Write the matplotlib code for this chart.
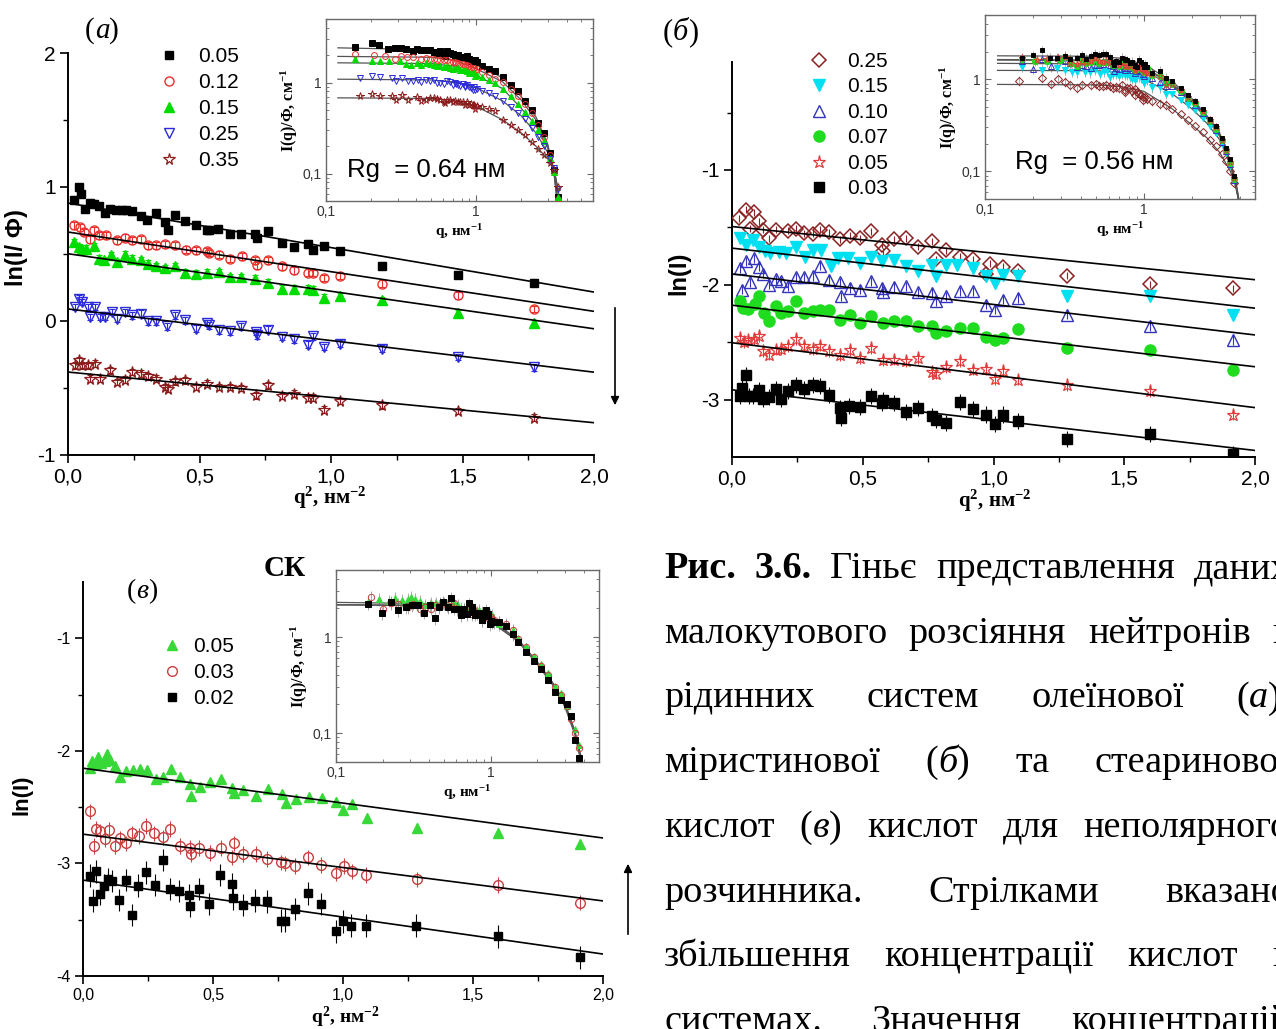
import numpy as np
import matplotlib
matplotlib.use("Agg")
import matplotlib.pyplot as plt
from matplotlib.ticker import MultipleLocator, FixedLocator, FuncFormatter, NullFormatter, LogLocator

plt.rcParams['font.family'] = ['Liberation Sans', 'DejaVu Sans']
plt.rcParams['axes.unicode_minus'] = False
plt.rcParams['mathtext.fontset'] = 'custom'
plt.rcParams['mathtext.rm'] = 'Liberation Serif'
plt.rcParams['mathtext.bf'] = 'Liberation Serif:bold'
plt.rcParams['mathtext.it'] = 'Liberation Serif:italic'

# ======================= DATA =======================
# ---- panel (a): oleic acid, ln(I/Phi) vs q^2 ----
A_labels = ['0.05', '0.12', '0.15', '0.25', '0.35']
A_q2_k = [0.024,0.041,0.051,0.066,0.083,0.10,0.118,0.142,0.161,0.184,0.206,0.222,0.244,0.276,0.301,0.334,0.37,0.381,0.407,0.445,0.485,0.53,0.536,0.572,0.616,0.659,0.71,0.718,0.759,0.813,0.86,0.914,0.93,0.975,1.036,1.193,1.482,1.772]
A_ln_k = [0.905,1.0,0.95,0.838,0.883,0.876,0.858,0.808,0.838,0.831,0.826,0.826,0.818,0.784,0.756,0.806,0.736,0.682,0.791,0.746,0.719,0.682,0.677,0.689,0.652,0.647,0.647,0.622,0.669,0.585,0.552,0.577,0.532,0.56,0.52,0.414,0.345,0.285]
A_q2_r = [0.024,0.044,0.062,0.083,0.10,0.119,0.146,0.187,0.215,0.244,0.276,0.305,0.334,0.37,0.407,0.447,0.488,0.53,0.536,0.574,0.616,0.663,0.71,0.72,0.759,0.813,0.86,0.914,0.93,0.972,1.036,1.193,1.482,1.772]
A_ln_r = [0.714,0.70,0.664,0.609,0.677,0.639,0.639,0.602,0.622,0.602,0.609,0.565,0.565,0.572,0.565,0.532,0.527,0.522,0.507,0.495,0.465,0.483,0.453,0.415,0.453,0.408,0.378,0.361,0.358,0.321,0.336,0.278,0.191,0.089]
A_q2_g = [0.024,0.041,0.053,0.07,0.098,0.117,0.136,0.164,0.187,0.215,0.244,0.276,0.305,0.334,0.37,0.407,0.445,0.485,0.53,0.574,0.616,0.659,0.71,0.759,0.813,0.86,0.914,0.93,0.972,1.036,1.193,1.482,1.772]
A_ln_g = [0.59,0.552,0.54,0.54,0.557,0.465,0.453,0.49,0.44,0.495,0.465,0.453,0.428,0.408,0.396,0.41,0.361,0.353,0.361,0.366,0.328,0.328,0.316,0.286,0.241,0.241,0.241,0.234,0.174,0.187,0.154,0.06,-0.015]
A_q2_b = [0.028,0.041,0.053,0.075,0.085,0.104,0.123,0.142,0.168,0.187,0.215,0.244,0.276,0.305,0.334,0.377,0.407,0.445,0.488,0.53,0.536,0.574,0.616,0.659,0.714,0.72,0.759,0.813,0.86,0.914,0.93,0.972,1.036,1.193,1.482,1.772]
A_ln_b = [0.104,0.167,0.142,0.104,0.03,0.104,0.03,0.03,0.067,0.017,0.067,0.042,0.055,-0.002,-0.002,-0.04,0.042,0.005,-0.057,-0.015,-0.032,-0.07,-0.077,-0.04,-0.082,-0.107,-0.065,-0.119,-0.137,-0.177,-0.114,-0.194,-0.169,-0.206,-0.268,-0.347]
A_q2_s = [0.028,0.041,0.053,0.075,0.085,0.104,0.123,0.161,0.187,0.215,0.244,0.276,0.305,0.334,0.37,0.381,0.407,0.445,0.488,0.53,0.574,0.616,0.659,0.714,0.759,0.813,0.86,0.914,0.93,0.972,1.036,1.193,1.482,1.772]
A_ln_s = [-0.331,-0.294,-0.331,-0.331,-0.43,-0.318,-0.43,-0.368,-0.455,-0.438,-0.381,-0.393,-0.413,-0.43,-0.493,-0.505,-0.45,-0.443,-0.493,-0.468,-0.493,-0.493,-0.5,-0.555,-0.48,-0.56,-0.542,-0.572,-0.572,-0.662,-0.597,-0.628,-0.672,-0.722]
A_fit_int = [0.88, 0.664, 0.502, 0.09, -0.381]
A_fit_slope = [-0.332, -0.296, -0.28, -0.236, -0.189]
# inset (a): extra high-q points and fitted curve knots
A_hq = [1.5, 1.7, 1.9, 2.1, 2.35, 2.6, 2.85, 3.1, 3.3, 3.5]
A_hI_k = [1.15, 0.95, 0.8, 0.62, 0.5, 0.36, 0.28, 0.17, 0.11, 0.055]
A_hI_r = [1.02, 0.85, 0.71, 0.58, 0.46, 0.34, 0.25, 0.16, 0.105, 0.052]
A_hI_g = [0.86, 0.71, 0.58, 0.48, 0.38, 0.3, 0.23, 0.15, 0.105, 0.055]
A_hI_b = [0.63, 0.54, 0.46, 0.4, 0.32, 0.25, 0.2, 0.145, 0.115, 0.068]
A_hI_s = [0.39, 0.34, 0.3, 0.265, 0.22, 0.185, 0.16, 0.13, 0.11, 0.072]
A_cq = [0.12, 0.5, 0.7, 1.0, 1.5, 2.0, 2.5, 3.0, 3.3, 3.5, 3.7]
A_cI_k = [2.41, 2.3, 2.12, 1.66, 1.12, 0.70, 0.42, 0.21, 0.10, 0.04, 0.015]
A_cI_r = [1.94, 1.9, 1.78, 1.42, 1.02, 0.64, 0.39, 0.2, 0.105, 0.045, 0.018]
A_cI_g = [1.65, 1.62, 1.52, 1.2, 0.86, 0.52, 0.34, 0.19, 0.105, 0.05, 0.02]
A_cI_b = [1.09, 1.07, 1.02, 0.88, 0.63, 0.43, 0.28, 0.17, 0.115, 0.065, 0.03]
A_cI_s = [0.68, 0.67, 0.64, 0.55, 0.39, 0.28, 0.2, 0.145, 0.11, 0.07, 0.035]

# ---- panel (б): myristic acid, ln(I) vs q^2 ----
B_labels = ['0.25', '0.15', '0.10', '0.07', '0.05', '0.03']
B_q2_d = [0.027,0.052,0.068,0.083,0.102,0.119,0.142,0.167,0.215,0.246,0.276,0.308,0.338,0.372,0.412,0.451,0.489,0.531,0.572,0.579,0.621,0.665,0.713,0.766,0.78,0.817,0.87,0.921,0.972,0.987,1.038,1.093,1.28,1.598,1.915]
B_ln_d = [-1.42,-1.348,-1.513,-1.368,-1.449,-1.522,-1.594,-1.522,-1.53,-1.513,-1.551,-1.557,-1.522,-1.542,-1.603,-1.574,-1.594,-1.536,-1.652,-1.71,-1.603,-1.594,-1.667,-1.623,-1.777,-1.701,-1.754,-1.777,-1.904,-1.817,-1.841,-1.884,-1.921,-1.994,-2.029]
B_q2_c = [0.029,0.052,0.08,0.103,0.125,0.144,0.18,0.208,0.244,0.278,0.31,0.342,0.377,0.406,0.444,0.489,0.531,0.572,0.621,0.665,0.713,0.766,0.78,0.817,0.86,0.921,0.972,1.006,1.038,1.093,1.28,1.598,1.915]
B_ln_c = [-1.594,-1.652,-1.614,-1.667,-1.71,-1.725,-1.719,-1.725,-1.667,-1.754,-1.701,-1.696,-1.835,-1.768,-1.768,-1.812,-1.754,-1.791,-1.788,-1.835,-1.884,-1.826,-1.922,-1.826,-1.826,-1.855,-1.922,-1.986,-1.913,-1.922,-2.102,-2.102,-2.262]
B_q2_b = [0.029,0.04,0.052,0.068,0.083,0.102,0.119,0.142,0.167,0.189,0.215,0.246,0.276,0.308,0.338,0.372,0.412,0.416,0.451,0.489,0.531,0.572,0.579,0.621,0.665,0.713,0.766,0.78,0.817,0.87,0.921,0.972,1.006,1.038,1.093,1.28,1.598,1.915]
B_ln_b = [-1.855,-2.043,-1.797,-1.98,-1.768,-1.841,-1.904,-2.0,-1.951,-1.971,-2.014,-1.936,-1.936,-1.928,-1.835,-1.957,-1.977,-2.101,-2.029,-2.043,-1.971,-2.029,-2.067,-2.02,-2.014,-2.067,-2.072,-2.145,-2.101,-2.058,-2.058,-2.174,-2.217,-2.13,-2.116,-2.262,-2.359,-2.481]
B_q2_g = [0.029,0.042,0.061,0.087,0.102,0.121,0.142,0.167,0.189,0.215,0.244,0.275,0.308,0.338,0.372,0.412,0.451,0.489,0.531,0.579,0.621,0.665,0.713,0.766,0.78,0.817,0.87,0.921,0.972,1.006,1.038,1.093,1.28,1.598,1.915]
B_ln_g = [-2.145,-2.203,-2.212,-2.165,-2.101,-2.246,-2.319,-2.188,-2.246,-2.232,-2.145,-2.246,-2.232,-2.223,-2.217,-2.31,-2.261,-2.333,-2.27,-2.333,-2.319,-2.319,-2.362,-2.357,-2.42,-2.406,-2.377,-2.377,-2.455,-2.478,-2.464,-2.386,-2.554,-2.569,-2.743]
B_q2_r = [0.029,0.045,0.061,0.083,0.102,0.119,0.142,0.167,0.189,0.215,0.244,0.275,0.308,0.338,0.372,0.412,0.451,0.489,0.531,0.579,0.621,0.665,0.713,0.766,0.78,0.817,0.87,0.921,0.972,1.006,1.038,1.093,1.28,1.598,1.915]
B_ln_r = [-2.464,-2.501,-2.484,-2.472,-2.449,-2.58,-2.609,-2.565,-2.559,-2.536,-2.472,-2.536,-2.559,-2.53,-2.58,-2.614,-2.571,-2.638,-2.551,-2.658,-2.652,-2.667,-2.638,-2.762,-2.774,-2.719,-2.667,-2.739,-2.733,-2.82,-2.754,-2.826,-2.875,-2.924,-3.131]
B_q2_k = [0.029,0.04,0.052,0.065,0.08,0.102,0.119,0.142,0.167,0.189,0.215,0.244,0.275,0.308,0.338,0.372,0.412,0.416,0.448,0.489,0.531,0.572,0.579,0.621,0.665,0.713,0.766,0.78,0.817,0.87,0.921,0.972,1.006,1.038,1.093,1.28,1.598,1.915]
B_ln_k = [-2.965,-2.899,-2.783,-2.971,-2.971,-2.913,-2.994,-2.98,-2.907,-2.994,-2.928,-2.87,-2.907,-2.87,-2.884,-2.957,-3.072,-3.159,-3.058,-3.064,-2.971,-3.029,-3.0,-3.029,-3.107,-3.072,-3.145,-3.174,-3.203,-3.023,-3.081,-3.13,-3.209,-3.13,-3.188,-3.347,-3.297,-3.472]
B_fit_int = [-1.493, -1.681, -1.906, -2.178, -2.505, -2.915]
B_fit_slope = [-0.2315, -0.2615, -0.2655, -0.268, -0.2825, -0.264]
B_hq = [1.5, 1.7, 1.9, 2.1, 2.35, 2.6, 2.85, 3.1, 3.3, 3.5, 3.7]
B_hI_d = [0.48, 0.42, 0.36, 0.31, 0.27, 0.22, 0.19, 0.155, 0.13, 0.1, 0.075]
B_hI_c = [0.7, 0.6, 0.53, 0.46, 0.38, 0.31, 0.26, 0.2, 0.16, 0.115, 0.078]
B_hI_b = [0.85, 0.72, 0.62, 0.53, 0.43, 0.35, 0.28, 0.21, 0.165, 0.12, 0.08]
B_hI_g = [0.88, 0.75, 0.63, 0.55, 0.44, 0.35, 0.29, 0.22, 0.17, 0.122, 0.082]
B_hI_r = [0.9, 0.77, 0.64, 0.56, 0.45, 0.36, 0.3, 0.22, 0.17, 0.125, 0.085]
B_hI_k = [0.97, 0.8, 0.67, 0.58, 0.47, 0.37, 0.31, 0.23, 0.18, 0.135, 0.09]
B_cq = [0.12, 0.5, 0.7, 1.0, 1.5, 2.0, 2.5, 3.0, 3.5, 3.8, 4.0]
B_cI_d = [0.88, 0.87, 0.84, 0.74, 0.48, 0.32, 0.23, 0.16, 0.1, 0.065, 0.045]
B_cI_c = [1.25, 1.24, 1.19, 1.0, 0.7, 0.48, 0.33, 0.22, 0.115, 0.067, 0.041]
B_cI_b = [1.49, 1.47, 1.41, 1.25, 0.85, 0.56, 0.37, 0.24, 0.12, 0.069, 0.042]
B_cI_g = [1.62, 1.6, 1.53, 1.32, 0.88, 0.58, 0.38, 0.245, 0.122, 0.07, 0.043]
B_cI_r = [1.64, 1.62, 1.56, 1.36, 0.9, 0.6, 0.39, 0.25, 0.125, 0.072, 0.044]
B_cI_k = [1.8, 1.78, 1.7, 1.46, 0.95, 0.62, 0.4, 0.26, 0.13, 0.075, 0.045]

# ---- panel (в): stearic acid, ln(I) vs q^2 ----
C_labels = ['0.05', '0.03', '0.02']
C_q2_g = [0.026,0.036,0.049,0.058,0.071,0.084,0.093,0.105,0.122,0.141,0.167,0.193,0.219,0.247,0.28,0.308,0.337,0.373,0.411,0.415,0.45,0.488,0.531,0.572,0.581,0.617,0.666,0.713,0.765,0.781,0.819,0.868,0.919,0.974,1.0,1.035,1.091,1.283,1.595,1.913]
C_ln_g = [-2.148,-2.089,-2.118,-2.059,-2.104,-2.089,-2.03,-2.083,-2.133,-2.231,-2.178,-2.172,-2.163,-2.172,-2.251,-2.231,-2.163,-2.231,-2.29,-2.399,-2.325,-2.281,-2.251,-2.334,-2.37,-2.349,-2.399,-2.34,-2.385,-2.467,-2.429,-2.414,-2.423,-2.45,-2.527,-2.473,-2.593,-2.681,-2.729,-2.829]
C_q2_r = [0.028,0.041,0.051,0.064,0.084,0.10,0.122,0.141,0.167,0.19,0.216,0.244,0.274,0.306,0.334,0.373,0.411,0.414,0.447,0.488,0.53,0.572,0.581,0.617,0.666,0.709,0.761,0.778,0.814,0.864,0.916,0.974,1.003,1.035,1.09,1.283,1.595,1.91]
C_ln_r = [-2.538,-2.843,-2.695,-2.716,-2.784,-2.704,-2.843,-2.778,-2.822,-2.734,-2.754,-2.666,-2.734,-2.769,-2.695,-2.843,-2.864,-2.917,-2.864,-2.908,-2.864,-2.947,-2.822,-2.917,-2.917,-2.962,-2.991,-3.0,-3.021,-2.947,-3.015,-3.089,-3.021,-3.071,-3.103,-3.142,-3.192,-3.348]
C_q2_k = [0.026,0.039,0.051,0.064,0.08,0.096,0.113,0.139,0.165,0.19,0.212,0.242,0.276,0.306,0.334,0.37,0.409,0.411,0.447,0.486,0.527,0.572,0.578,0.617,0.662,0.709,0.761,0.778,0.814,0.864,0.915,0.974,1.0,1.032,1.087,1.28,1.595,1.91]
C_ln_k = [-3.109,-3.331,-3.071,-3.272,-3.198,-3.139,-3.154,-3.325,-3.148,-3.456,-3.198,-3.08,-3.192,-2.97,-3.228,-3.243,-3.281,-3.376,-3.228,-3.361,-3.104,-3.183,-3.311,-3.37,-3.331,-3.337,-3.509,-3.509,-3.405,-3.266,-3.361,-3.604,-3.515,-3.553,-3.552,-3.552,-3.649,-3.835]
C_fit_int = [-2.154, -2.74, -3.148]
C_fit_slope = [-0.31, -0.2965, -0.3285]
C_hq = [1.5, 1.7, 1.9, 2.1, 2.35, 2.6, 2.85, 3.1, 3.3, 3.5, 3.7]
C_hI_g = [0.97, 0.8, 0.64, 0.52, 0.42, 0.31, 0.26, 0.19, 0.15, 0.11, 0.075]
C_hI_r = [0.95, 0.78, 0.62, 0.5, 0.4, 0.3, 0.25, 0.19, 0.14, 0.1, 0.07]
C_hI_k = [0.88, 0.7, 0.56, 0.46, 0.36, 0.27, 0.22, 0.2, 0.15, 0.085, 0.055]
C_cq = [0.1, 0.5, 0.7, 1.0, 1.5, 2.0, 2.5, 3.0, 3.5, 3.8, 4.0]
C_cI_g = [2.3, 2.22, 1.98, 1.5, 0.95, 0.55, 0.34, 0.21, 0.105, 0.06, 0.04]
C_cI_r = [2.18, 2.14, 1.92, 1.46, 0.92, 0.54, 0.33, 0.2, 0.1, 0.057, 0.038]
C_cI_k = [2.16, 2.12, 1.9, 1.44, 0.9, 0.52, 0.32, 0.19, 0.095, 0.052, 0.035]

CAPTION = [
    "Рис. 3.6. Гіньє представлення даних",
    "малокутового розсіяння нейтронів в",
    "рідинних систем олеїнової (а),",
    "міристинової (б) та стеаринової",
    "кислот (в) кислот для неполярного",
    "розчинника. Стрілками вказано",
    "збільшення концентрації кислот в",
    "системах. Значення концентрацій",
]

# ======================= FIGURE =======================
W, H = 1276, 1029
fig = plt.figure(figsize=(W / 100, H / 100), dpi=100)
fig.patch.set_facecolor('white')
R = fig.canvas.get_renderer()


def rect(l, r, t, b):
    return [l / W, (H - b) / H, (r - l) / W, (b - t) / H]


def fx(x):
    return x / W


def fy(y):
    return 1 - y / H


comma1 = FuncFormatter(lambda v, p: f"{v:.1f}".replace('.', ','))
intfmt = FuncFormatter(lambda v, p: f"{v:.0f}")


def style_main(ax, ylim, ymaj, ymin, fs):
    ax.set_xlim(0, 2.0)
    ax.set_ylim(*ylim)
    ax.spines['top'].set_visible(False)
    ax.spines['right'].set_visible(False)
    for s in ('left', 'bottom'):
        ax.spines[s].set_linewidth(1.4)
    ax.xaxis.set_major_locator(MultipleLocator(0.5))
    ax.xaxis.set_minor_locator(MultipleLocator(0.25))
    ax.xaxis.set_major_formatter(comma1)
    ax.yaxis.set_major_locator(FixedLocator(ymaj))
    ax.yaxis.set_minor_locator(FixedLocator(ymin))
    ax.yaxis.set_major_formatter(intfmt)
    ax.tick_params(which='major', direction='out', length=6, width=1.2, labelsize=fs, pad=3)
    ax.tick_params(which='minor', direction='out', length=3.5, width=1.0)
    ax.patch.set_alpha(0)


logfmt = FuncFormatter(lambda v, p: {0.1: '0,1', 1.0: '1', 10.0: '10'}.get(round(v, 4), ''))


def style_inset(ax, xmax):
    ax.set_xscale('log')
    ax.set_yscale('log')
    ax.set_xlim(0.1, xmax)
    ax.set_ylim(0.05, 5)
    for s in ax.spines.values():
        s.set_color('#6a6a6a')
        s.set_linewidth(1.0)
    ax.xaxis.set_major_locator(LogLocator(base=10, numticks=10))
    ax.yaxis.set_major_locator(LogLocator(base=10, numticks=10))
    ax.xaxis.set_minor_locator(LogLocator(base=10, subs=np.arange(2, 10), numticks=10))
    ax.yaxis.set_minor_locator(LogLocator(base=10, subs=np.arange(2, 10), numticks=10))
    ax.xaxis.set_major_formatter(logfmt)
    ax.yaxis.set_major_formatter(logfmt)
    ax.xaxis.set_minor_formatter(NullFormatter())
    ax.yaxis.set_minor_formatter(NullFormatter())
    ax.tick_params(which='both', direction='in', top=True, right=True, color='#6a6a6a',
                   labelsize=10, pad=3, labelcolor='#333333')
    ax.tick_params(which='major', length=4)
    ax.tick_params(which='minor', length=2)
    ax.set_xlabel(r"q, нм$^{\mathbf{-1}}$", fontfamily='Liberation Serif', fontweight='bold',
                  fontsize=11, labelpad=2)
    ax.set_ylabel(r"I(q)/Ф, см$^{\mathbf{-1}}$", fontfamily='Liberation Serif', fontweight='bold',
                  fontsize=11.5, labelpad=2)


def draw_series(ax, q2, ln, st, err, capsize):
    ax.errorbar(q2, ln, yerr=err, fmt='none', ecolor=st['ecol'], elinewidth=0.8,
                capsize=capsize, capthick=0.8, zorder=2)
    h, = ax.plot(q2, ln, linestyle='none', marker=st['m'], ms=st['ms'],
                 mfc=st['mfc'], mec=st['mec'], mew=st['mew'], zorder=3, label=st['lab'])
    return h


def draw_fit(ax, a, b):
    xs = np.array([0.0, 2.0])
    ax.plot(xs, a + b * xs, color='black', lw=1.2, zorder=4)


def style(m, col, ms, filled, lab, mew=1.0):
    return dict(m=m, ms=ms, mfc=col if filled else 'none', mec=col, mew=mew, ecol=col, lab=lab)


# --------------------------- panel (a) ---------------------------
axA = fig.add_axes(rect(68, 594, 53, 455))
style_main(axA, (-1, 2), [-1, 0, 1, 2], [-0.5, 0.5, 1.5], 15)
A_styles = [style('s', '#000000', 6, True, A_labels[0]),
            style('o', '#e8322d', 6.5, False, A_labels[1]),
            style('^', '#00dc00', 7, True, A_labels[2]),
            style('v', '#2b2bd9', 7, False, A_labels[3]),
            style('*', '#8b1c1c', 8.5, False, A_labels[4], 0.9)]
A_q2 = [A_q2_k, A_q2_r, A_q2_g, A_q2_b, A_q2_s]
A_ln = [A_ln_k, A_ln_r, A_ln_g, A_ln_b, A_ln_s]
A_h = []
for q2, ln, st in zip(A_q2, A_ln, A_styles):
    A_h.append(draw_series(axA, q2, ln, st, 0.025, 2))
for a, b in zip(A_fit_int, A_fit_slope):
    draw_fit(axA, a, b)
axA.set_ylabel("ln(I/ Ф)", fontsize=17, fontweight='bold')
axA.yaxis.set_label_coords(-0.076, 0.517)
axA.set_xlabel(r"q$^{\mathbf{2}}$, нм$^{\mathbf{-2}}$", fontfamily='Liberation Serif',
               fontweight='bold', fontsize=15)
axA.xaxis.set_label_coords(0.498, -0.075)
fig.legend(handles=A_h, loc='upper left', bbox_to_anchor=(fx(161), fy(47)),
           frameon=False, fontsize=15, handlelength=0.8, handletextpad=1.0,
           labelspacing=0.34, borderpad=0, borderaxespad=0)

insA = fig.add_axes(rect(326, 593, 19, 201))
style_inset(insA, 6.0)
A_hI = [A_hI_k, A_hI_r, A_hI_g, A_hI_b, A_hI_s]
A_cI = [A_cI_k, A_cI_r, A_cI_g, A_cI_b, A_cI_s]
for q2, ln, hI, cI, st in zip(A_q2, A_ln, A_hI, A_cI, A_styles):
    insA.plot(A_cq, cI, color='#555555', lw=0.9, zorder=2)
    insA.plot(np.sqrt(q2), np.exp(ln), linestyle='none', marker=st['m'], ms=st['ms'] * 0.65,
              mfc=st['mfc'], mec=st['mec'], mew=0.7, zorder=3)
    insA.plot(A_hq, hI, linestyle='none', marker=st['m'], ms=st['ms'] * 0.65,
              mfc=st['mfc'], mec=st['mec'], mew=0.7, zorder=3)
insA.text(0.08, 0.17, "Rg  = 0.64 нм", transform=insA.transAxes, fontsize=18.5, va='center', ha='left')

# --------------------------- panel (б) ---------------------------
axB = fig.add_axes(rect(732, 1255, 62, 457))
style_main(axB, (-3.5, -0.06), [-3, -2, -1], [-2.5, -1.5, -0.5], 15)
B_styles = [style('D', '#8b2323', 7.5, False, B_labels[0], 1.1),
            style('v', '#00e0f0', 8, True, B_labels[1]),
            style('^', '#3333bb', 8, False, B_labels[2]),
            style('o', '#1fdc1f', 8, True, B_labels[3]),
            style('*', '#e03c3c', 9.5, False, B_labels[4], 0.9),
            style('s', '#000000', 6.5, True, B_labels[5])]
B_q2 = [B_q2_d, B_q2_c, B_q2_b, B_q2_g, B_q2_r, B_q2_k]
B_ln = [B_ln_d, B_ln_c, B_ln_b, B_ln_g, B_ln_r, B_ln_k]
B_err = [0.03, 0.04, 0.04, 0.04, 0.05, 0.07]
B_h = []
for q2, ln, st, e in zip(B_q2, B_ln, B_styles, B_err):
    B_h.append(draw_series(axB, q2, ln, st, e, 0))
for a, b in zip(B_fit_int, B_fit_slope):
    draw_fit(axB, a, b)
axB.set_ylabel("ln(I)", fontsize=17, fontweight='bold')
axB.yaxis.set_label_coords(-0.08, 0.466)
axB.set_xlabel(r"q$^{\mathbf{2}}$, нм$^{\mathbf{-2}}$", fontfamily='Liberation Serif',
               fontweight='bold', fontsize=15)
axB.xaxis.set_label_coords(0.503, -0.078)
fig.legend(handles=B_h, loc='upper left', bbox_to_anchor=(fx(811), fy(52)),
           frameon=False, fontsize=15, handlelength=0.8, handletextpad=0.95,
           labelspacing=0.31, borderpad=0, borderaxespad=0)

insB = fig.add_axes(rect(985, 1255, 15, 199))
style_inset(insB, 5.0)
B_conc = [float(s) for s in B_labels]
B_hI = [B_hI_d, B_hI_c, B_hI_b, B_hI_g, B_hI_r, B_hI_k]
B_cI = [B_cI_d, B_cI_c, B_cI_b, B_cI_g, B_cI_r, B_cI_k]
for q2, ln, hI, cI, st, c in zip(B_q2, B_ln, B_hI, B_cI, B_styles, B_conc):
    insB.plot(B_cq, cI, color='#555555', lw=0.9, zorder=2)
    qq = np.sqrt(q2)
    II = np.exp(ln) / c
    insB.errorbar(qq, II, yerr=II * 0.12, fmt='none', ecolor='#8a8a8a', elinewidth=0.5, zorder=1)
    insB.plot(qq, II, linestyle='none', marker=st['m'], ms=st['ms'] * 0.55,
              mfc=st['mfc'], mec=st['mec'], mew=0.7, zorder=3)
    insB.plot(B_hq, hI, linestyle='none', marker=st['m'], ms=st['ms'] * 0.55,
              mfc=st['mfc'], mec=st['mec'], mew=0.7, zorder=3)
insB.text(0.11, 0.2, "Rg  = 0.56 нм", transform=insB.transAxes, fontsize=18.5, va='center', ha='left')

# --------------------------- panel (в) ---------------------------
axC = fig.add_axes(rect(83, 603, 582, 976))
style_main(axC, (-4, -0.5), [-4, -3, -2, -1], [-3.5, -2.5, -1.5], 11.5)
C_styles = [style('^', '#38d838', 6.5, True, C_labels[0]),
            style('o', '#c84040', 7, False, C_labels[1]),
            style('s', '#000000', 6, True, C_labels[2])]
C_q2 = [C_q2_g, C_q2_r, C_q2_k]
C_ln = [C_ln_g, C_ln_r, C_ln_k]
C_err = [0.04, 0.07, 0.1]
C_h = []
for q2, ln, st, e in zip(C_q2, C_ln, C_styles, C_err):
    C_h.append(draw_series(axC, q2, ln, st, e, 0))
for a, b in zip(C_fit_int, C_fit_slope):
    draw_fit(axC, a, b)
axC.set_ylabel("ln(I)", fontsize=16, fontweight='bold')
axC.yaxis.set_label_coords(-0.098, 0.46)
axC.set_xlabel(r"q$^{\mathbf{2}}$, нм$^{\mathbf{-2}}$", fontfamily='Liberation Serif',
               fontweight='bold', fontsize=14)
axC.xaxis.set_label_coords(0.504, -0.072)
fig.legend(handles=C_h, loc='upper left', bbox_to_anchor=(fx(164), fy(637)),
           frameon=False, fontsize=15, handlelength=0.8, handletextpad=0.6,
           labelspacing=0.34, borderpad=0, borderaxespad=0)

insC = fig.add_axes(rect(336, 599, 570, 762))
style_inset(insC, 5.0)
C_conc = [float(s) for s in C_labels]
C_hI = [C_hI_g, C_hI_r, C_hI_k]
C_cI = [C_cI_g, C_cI_r, C_cI_k]
for q2, ln, hI, cI, st, c in zip(C_q2, C_ln, C_hI, C_cI, C_styles, C_conc):
    insC.plot(C_cq, cI, color='#555555', lw=0.9, zorder=2)
    qq = np.sqrt(q2)
    II = np.exp(ln) / c
    insC.errorbar(qq, II, yerr=II * 0.15, fmt='none', ecolor='#8a8a8a', elinewidth=0.5, zorder=1)
    insC.plot(qq, II, linestyle='none', marker=st['m'], ms=st['ms'] * 0.65,
              mfc=st['mfc'], mec=st['mec'], mew=0.7, zorder=3)
    insC.plot(C_hq, hI, linestyle='none', marker=st['m'], ms=st['ms'] * 0.65,
              mfc=st['mfc'], mec=st['mec'], mew=0.7, zorder=3)

# --------------------------- arrows & labels ---------------------------
fig.add_artist(matplotlib.patches.FancyArrowPatch((fx(615), fy(305)), (fx(615), fy(408)),
               transform=fig.transFigure, arrowstyle='-|>', mutation_scale=12,
               color='black', lw=1.2))
fig.add_artist(matplotlib.patches.FancyArrowPatch((fx(628), fy(937)), (fx(628), fy(861)),
               transform=fig.transFigure, arrowstyle='-|>', mutation_scale=12,
               color='black', lw=1.2))


def run_width(t, fs, weight='normal', style='normal', family='Liberation Serif'):
    tt = fig.text(0, 0, t, fontsize=fs, fontweight=weight, fontstyle=style, fontfamily=family)
    w = tt.get_window_extent(R).width
    tt.remove()
    return w


def draw_runs(x, ybase, runs, fs, family='Liberation Serif'):
    for (t, wt, st) in runs:
        fig.text(fx(x), fy(ybase), t, fontsize=fs, fontweight=wt, fontstyle=st,
                 fontfamily=family, ha='left', va='baseline')
        x += run_width(t, fs, wt, st, family)
    return x


def word_runs(word, bold=False):
    wt = 'bold' if bold else 'normal'
    if word.startswith('(') and len(word) >= 3 and word[2] == ')':
        return [('(', wt, 'normal'), (word[1], wt, 'italic'), (word[2:], wt, 'normal')]
    return [(word, wt, 'normal')]


# panel labels
def panel_label(xc, ybase, letter, fs):
    runs = word_runs('(' + letter + ')')
    tot = sum(run_width(t, fs, w, s) for t, w, s in runs)
    draw_runs(xc - tot / 2, ybase, runs, fs)


panel_label(102, 38, 'а', 21)
panel_label(680, 40, 'б', 22)
panel_label(142, 598, 'в', 20)
fig.text(fx(285), fy(568), "СК", fontsize=21, fontweight='bold', fontfamily='Liberation Serif',
         ha='center', va='center')

# caption, justified
CAP_FS = 27.5
CAP_X0, CAP_X1 = 664, 1290
for i, line in enumerate(CAPTION):
    words = line.split()
    runs_list = [word_runs(w, bold=(i == 0 and j < 2)) for j, w in enumerate(words)]
    widths = [sum(run_width(t, CAP_FS, wt, st) for t, wt, st in rl) for rl in runs_list]
    gap = (CAP_X1 - CAP_X0 - sum(widths)) / (len(words) - 1)
    x = CAP_X0
    yb = 578 + i * 64.7
    for rl, wd in zip(runs_list, widths):
        draw_runs(x, yb, rl, CAP_FS)
        x += wd + gap

fig.savefig("out.png", dpi=100, facecolor='white')
